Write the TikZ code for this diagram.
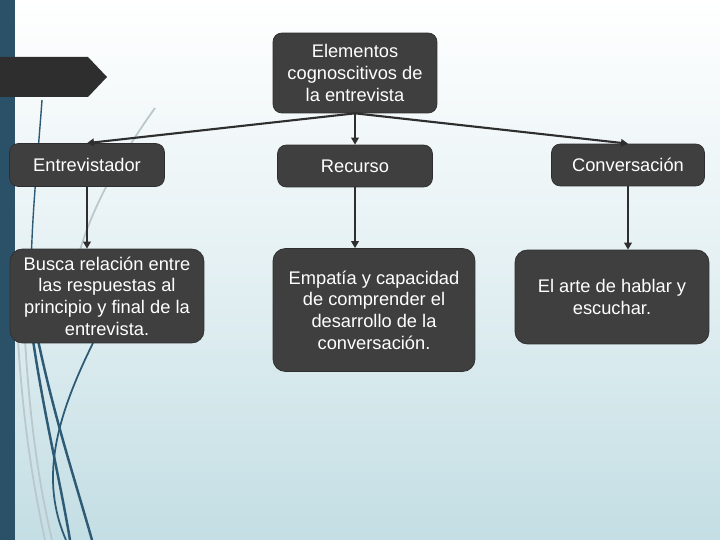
\documentclass[tikz,border=0pt]{standalone}
\usepackage{fontspec}
\setmainfont{Liberation Sans}
\usepackage{tikz}
\usetikzlibrary{arrows.meta}
\definecolor{ceink}{HTML}{3F3F3F}
\definecolor{ceedge}{HTML}{2E2E2E}
\definecolor{cebar}{HTML}{2B5169}
\definecolor{cecurve}{HTML}{2D5A74}
\definecolor{cegrey}{HTML}{BAC7CC}
\definecolor{cesky}{HTML}{C3DEE4}
\tikzset{
  cebox/.style={draw=ceedge,fill=ceink,rounded corners=5pt,text=white,
                font=\fontsize{10.4}{12.3}\selectfont,align=center,inner sep=2pt},
  ceflow/.style={-{Triangle[length=1.4mm,width=1.5mm]},line width=1.2pt,draw=ceedge},
  decor/.style={line width=1.4pt,draw=cecurve},
  decorg/.style={line width=1pt,draw=cegrey},
}

\begin{document}
\begin{tikzpicture}[x=0.02cm,y=-0.02cm]
  \useasboundingbox (0,0) rectangle (720,540);

  % ---- background ----
  \shade[top color=white,bottom color=cesky,middle color=white!55!cesky] (0,0) rectangle (720,540);
  \fill[cebar] (0,0) rectangle (15,540);
  \fill[ceedge] (0,57) -- (88,57) -- (107,77) -- (88,97) -- (0,97) -- cycle;

  % ---- left ornament ----
  \draw[decor,line width=0.8pt] (42,100) .. controls (37,170) and (30,230) .. (31,300);
  \draw[decorg] (155,108) .. controls (125,150) and (95,200) .. (80,250);
  \draw[decorg] (16,300) .. controls (20,400) and (30,470) .. (45,540);
  \draw[decorg] (25,340) .. controls (30,420) and (38,480) .. (52,540);
  \draw[decor] (33,340) .. controls (45,420) and (60,480) .. (70,540);
  \draw[decor] (38,340) .. controls (55,420) and (75,480) .. (92,540);
  \draw[decor,line width=1pt] (93,343) .. controls (55,420) and (40,480) .. (66,540);

  % ---- nodes ----
  \node[cebox,minimum width=3.28cm,minimum height=1.6cm] (el) at (355,73)
    {Elementos\\cognoscitivos de\\la entrevista};
  \node[cebox,minimum width=3.1cm,minimum height=0.86cm] (ent) at (87,165) {Entrevistador};
  \node[cebox,minimum width=3.1cm,minimum height=0.84cm] (rec) at (355,166) {Recurso};
  \node[cebox,minimum width=3.06cm,minimum height=0.84cm] (conv) at (628,165) {Conversación};
  \node[cebox,minimum width=3.88cm,minimum height=1.88cm,rounded corners=7pt] (busca) at (107,296)
    {Busca relación entre\\las respuestas al\\principio y final de la\\entrevista.};
  \node[cebox,minimum width=4.04cm,minimum height=2.46cm,rounded corners=7pt] (emp) at (374,310)
    {Empatía y capacidad\\de comprender el\\desarrollo de la\\conversación.};
  \node[cebox,minimum width=3.88cm,minimum height=1.88cm,rounded corners=7pt] (arte) at (612,297)
    {El arte de hablar y\\escuchar.};

  % ---- flows ----
  \draw[ceflow] (el.south) -- (ent.north);
  \draw[ceflow] (el.south) -- (rec.north);
  \draw[ceflow] (el.south) -- (conv.north);
  \draw[ceflow] (ent.south) -- (ent.south |- busca.north);
  \draw[ceflow] (rec.south) -- (rec.south |- emp.north);
  \draw[ceflow] (conv.south) -- (conv.south |- arte.north);
\end{tikzpicture}
\end{document}
